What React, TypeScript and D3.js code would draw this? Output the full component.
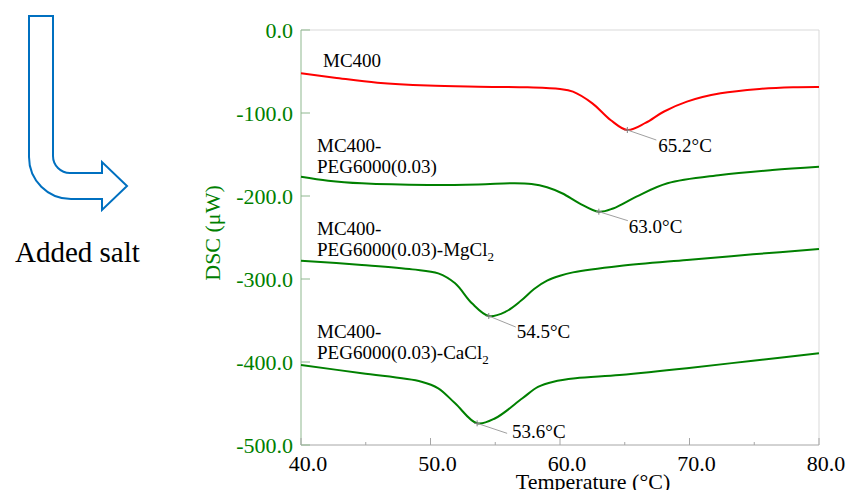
import React from 'react';
import * as d3 from 'd3';

// temperature (°C) / heat flow (µW)
const tempMC400 = [40, 42.6, 45.9, 49.8, 53.7, 57.5, 60, 61, 62.5, 63.9, 65.2, 66.6, 68.0, 69.8, 72.4, 75.4, 78, 80];
const dscMC400 = [-52.2, -57.4, -63.5, -67, -68.3, -69, -71, -74.3, -88.4, -108.4, -120.5, -112, -98.5, -86.3, -76.3, -71, -69, -68.7];

const tempPEG = [40, 42.1, 44.7, 49.8, 53.7, 56.5, 57.8, 59.0, 60.2, 61.5, 63.0, 64.1, 65.9, 68.3, 72.4, 76.4, 80];
const dscPEG = [-176.7, -181.5, -184.7, -186.7, -186, -184.5, -185.5, -189.5, -197, -208.8, -218.9, -215, -200.8, -184.7, -174.7, -168.7, -164.7];

const tempMg = [40, 44.7, 48.6, 50.6, 51.9, 53.2, 54.5, 55.8, 57.0, 58.0, 59.0, 60.0, 61.0, 64.6, 69.8, 74.9, 80];
const dscMg = [-277.9, -283.1, -288.4, -293.2, -305.2, -329.3, -344.6, -339.4, -326, -312, -302, -296, -292, -284.3, -277, -270.3, -263.9];

const tempCa = [40, 44.7, 49.3, 50.6, 51.9, 53.6, 55, 57.1, 58.3, 59.5, 61.2, 64.6, 69.8, 74.9, 80];
const dscCa = [-403.6, -413.6, -423.7, -431.7, -449.8, -473.9, -467.8, -443.7, -430, -423.7, -419.6, -415.7, -407.6, -398.4, -389.6];

const peakTemps = [65.2, 63.0, 54.5, 53.6];
const peakValues = [-120.5, -218.9, -344.6, -473.9];
const peakLabels = ['65.2°C', '63.0°C', '54.5°C', '53.6°C'];

const xTicks = [40, 50, 60, 70, 80];
const xMinorTicks = [45, 55, 65, 75];
const yTicks = [0, -100, -200, -300, -400, -500];

const FONT = '"Liberation Serif", "Times New Roman", serif';
const GREEN = '#008000';

export default function App() {
  const x = d3.scaleLinear().domain([40, 80]).range([301, 819]);
  const y = d3.scaleLinear().domain([0, -500]).range([30, 445]);

  const line = d3.line<[number, number]>()
    .x(d => x(d[0]))
    .y(d => y(d[1]))
    .curve(d3.curveCatmullRom.alpha(0.5));

  const series = [
    { t: tempMC400, v: dscMC400, color: '#ff0000' },
    { t: tempPEG, v: dscPEG, color: GREEN },
    { t: tempMg, v: dscMg, color: GREEN },
    { t: tempCa, v: dscCa, color: GREEN },
  ];

  // label placement relative to the peak point (px)
  const peakOffsets = [
    { lx: 29, ly: 10, tx: 31, ty: 22 },
    { lx: 29, ly: 9, tx: 30, ty: 21 },
    { lx: 27, ly: 11, tx: 28, ty: 22 },
    { lx: 30, ly: 10, tx: 35, ty: 15 },
  ];

  const txt = { fontFamily: FONT };

  const sub = (main: string, s: string) => (
    <>
      {main}
      <tspan fontSize={13} dy={5}>{s}</tspan>
    </>
  );

  return (
    <svg width={850} height={490} style={{ position: 'absolute', left: 0, top: 0, background: '#fff', fontFamily: FONT }}>
      {/* arrow */}
      <path
        d="M29,16 L53,16 L53,156 A17,17 0 0 0 70,173 L102,173 L102,162 L127,186 L102,210 L102,199 L71,199 A42,42 0 0 1 29,157 Z"
        fill="#fff" stroke="#0070c0" strokeWidth={2} strokeLinejoin="miter" />
      <text x={15} y={262} fontSize={29} fill="#000" style={txt}>Added salt</text>

      {/* frame */}
      <line x1={301} x2={819} y1={30} y2={30} stroke="#d9d9d9" />
      <line x1={819} x2={819} y1={30} y2={445} stroke="#d9d9d9" />
      <line x1={301} x2={819} y1={445} y2={445} stroke="#a6a6a6" />
      <line x1={301} x2={301} y1={30} y2={445} stroke="#8fb88f" />

      {yTicks.map(t => (
        <g key={'y' + t}>
          <line x1={301} x2={310} y1={y(t)} y2={y(t)} stroke="#8fb88f" />
          <text x={293} y={y(t)} textAnchor="end" dominantBaseline="central" fontSize={22} fill={GREEN} style={txt}>
            {t.toFixed(1)}
          </text>
        </g>
      ))}
      {xTicks.map(t => (
        <g key={'x' + t}>
          <line x1={x(t)} x2={x(t)} y1={445} y2={438} stroke="#a6a6a6" />
          <text x={x(t) + 7} y={471} textAnchor="middle" fontSize={22} fill="#000" style={txt}>{t.toFixed(1)}</text>
        </g>
      ))}
      {xMinorTicks.map(t => (
        <line key={'m' + t} x1={x(t)} x2={x(t)} y1={445} y2={442} stroke="#a6a6a6" />
      ))}

      <text x={593} y={489} textAnchor="middle" fontSize={22} fill="#000" style={txt}>Temperature (°C)</text>
      <text transform="translate(220,233) rotate(-90)" textAnchor="middle" fontSize={22} fill={GREEN} style={txt}>DSC (μW)</text>

      {series.map((s, i) => (
        <path key={'s' + i}
          d={line(s.t.map((t, j) => [t, s.v[j]] as [number, number])) || ''}
          fill="none" stroke={s.color} strokeWidth={2} />
      ))}

      {peakTemps.map((t, i) => {
        const px = x(t);
        const py = y(peakValues[i]);
        const o = peakOffsets[i];
        return (
          <g key={'p' + i}>
            <line x1={px} y1={py} x2={px + o.lx} y2={py + o.ly} stroke="#a0a0a0" strokeWidth={1} />
            <line x1={px - 3} x2={px + 3} y1={py} y2={py} stroke="#808080" strokeWidth={1} />
            <line x1={px} x2={px} y1={py - 3} y2={py + 3} stroke="#808080" strokeWidth={1} />
            <text x={px + o.tx} y={py + o.ty} fontSize={19} fill="#000" style={txt}>{peakLabels[i]}</text>
          </g>
        );
      })}

      {/* series labels */}
      <g fontSize={19} fill="#000" style={txt}>
        <text x={323} y={67}>MC400</text>
        <text x={317} y={152}>MC400-</text>
        <text x={317} y={173}>PEG6000(0.03)</text>
        <text x={317} y={235}>MC400-</text>
        <text x={317} y={256}>{sub('PEG6000(0.03)-MgCl', '2')}</text>
        <text x={317} y={338}>MC400-</text>
        <text x={317} y={359}>{sub('PEG6000(0.03)-CaCl', '2')}</text>
      </g>
    </svg>
  );
}
